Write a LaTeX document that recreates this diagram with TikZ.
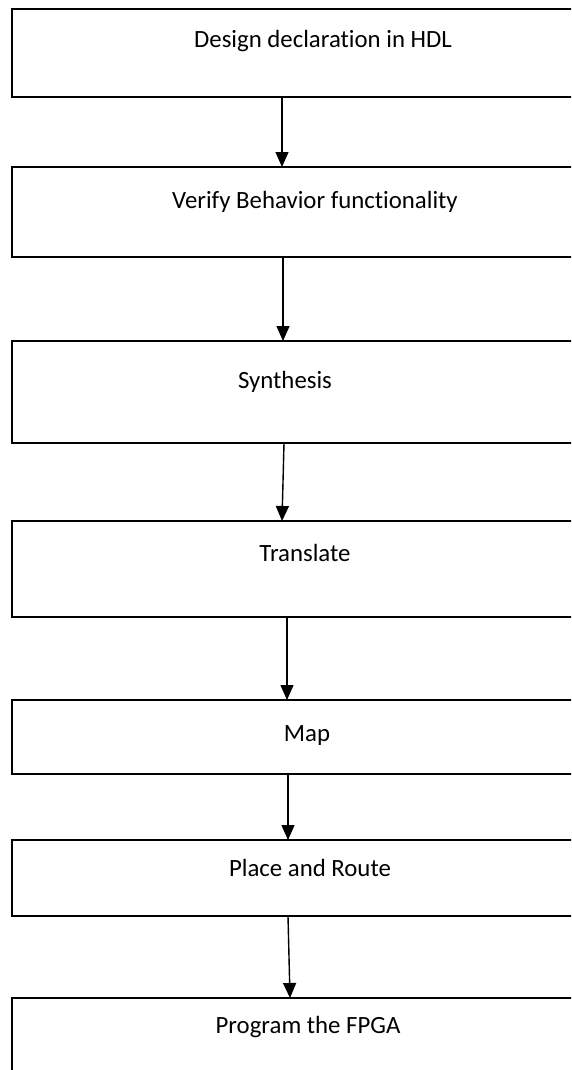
\documentclass[tikz,border=0pt]{standalone}
\usepackage{fontspec}
\setmainfont{Carlito}[Ligatures=NoCommon]
\usetikzlibrary{arrows.meta}
\begin{document}
\begin{tikzpicture}[x=1pt,y=-1pt,
  stage/.style={draw=black,line width=2pt,rectangle,anchor=north west,
    inner sep=0pt,outer sep=0pt,minimum width=600pt},
  caption/.style={anchor=base,inner sep=0pt,font=\fontsize{24.8}{28}\selectfont},
  flow/.style={line width=1.4pt,-{Triangle[width=13pt,length=15pt]}}]
\useasboundingbox (0,0) rectangle (571,1070);
\fill[white] (0,0) rectangle (571,1070);
\clip (0,0) rectangle (571,1070);

% process stages (each box runs past the right edge)
\node[stage,minimum height=88pt]  (b1) at (11.5,9)   {};
\node[stage,minimum height=90pt]  (b2) at (11.5,167) {};
\node[stage,minimum height=102pt] (b3) at (11.5,341) {};
\node[stage,minimum height=96pt]  (b4) at (11.5,521) {};
\node[stage,minimum height=74pt]  (b5) at (11.5,700) {};
\node[stage,minimum height=76pt]  (b6) at (11.5,840) {};
\node[stage,minimum height=110pt] (b7) at (11.5,998) {};

% stage captions
\node[caption] (t1) at (323,48)   {Design declaration in HDL};
\node[caption] (t2) at (315,208)  {Verify Behavior functionality};
\node[caption] (t3) at (285,388)  {Synthesis};
\node[caption] (t4) at (305,561)  {Translate};
\node[caption] (t5) at (307,741)  {Map};
\node[caption] (t6) at (310,876)  {Place and Route};
\node[caption] (t7) at (308,1033) {Program the FPGA};

% flow arrows between stages
\draw[flow] (b1.south -| 282,0) -- (b2.north -| 282,0);
\draw[flow] (b2.south -| 283,0) -- (b3.north -| 283,0);
\draw[flow] (b3.south -| 284,0) -- (b4.north -| 282,0);
\draw[flow] (b4.south -| 287,0) -- (b5.north -| 287,0);
\draw[flow] (b5.south -| 288,0) -- (b6.north -| 288,0);
\draw[flow] (b6.south -| 288,0) -- (b7.north -| 290,0);
\end{tikzpicture}
\end{document}
